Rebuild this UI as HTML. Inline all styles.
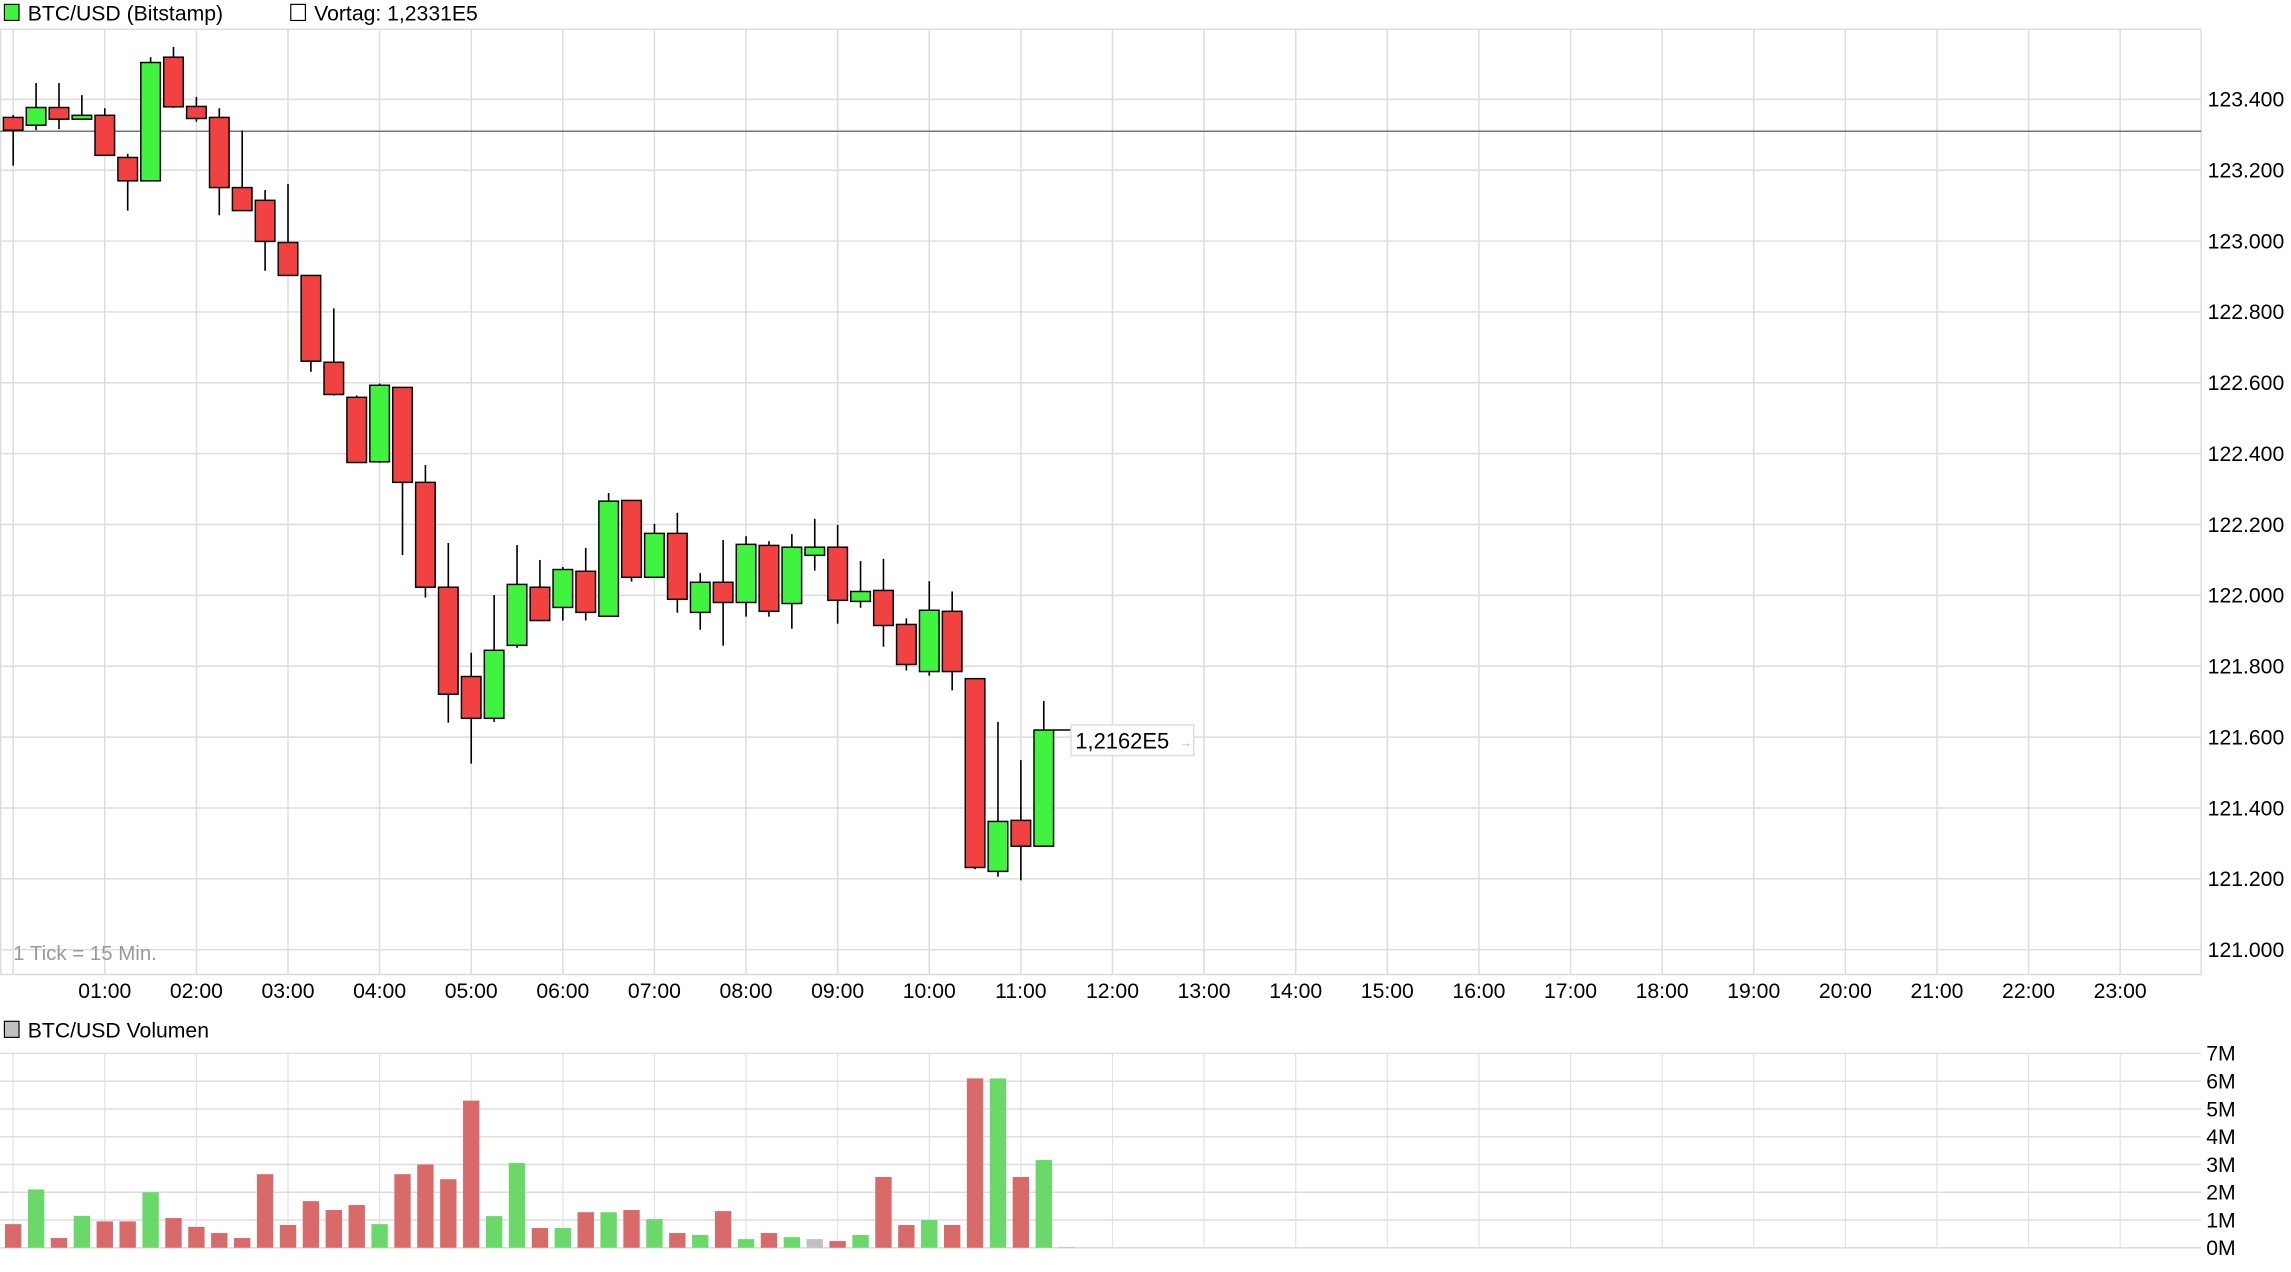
<!DOCTYPE html>
<html><head><meta charset="utf-8"><style>
html,body{margin:0;padding:0;background:#fff;overflow:hidden}
svg{display:block;font-family:"Liberation Sans",sans-serif}
</style></head><body>
<svg id="chart" width="2291" height="1272" viewBox="0 0 1568 870.6" xmlns="http://www.w3.org/2000/svg">
<g id="grid"></g>
<g id="volgrid"></g>
<g id="candles"></g>
<g id="vols"></g>
<g id="labels"></g>
<g>
<rect x="3" y="3" width="10" height="11" fill="#3ff33f" stroke="#000" stroke-width="0.8"/>
<text x="19" y="14" font-size="14.5">BTC/USD (Bitstamp)</text>
<rect x="199" y="3" width="10" height="11" fill="#fff" stroke="#000" stroke-width="0.8"/>
<text x="215" y="14" font-size="14.5">Vortag: 1,2331E5</text>
</g>
<g>
<rect x="3" y="699" width="10" height="11" fill="#c0c0c0" stroke="#000" stroke-width="0.8"/>
<text x="19" y="710" font-size="14.5">BTC/USD Volumen</text>
</g>
<text x="9" y="657" font-size="14" fill="#999">1 Tick = 15 Min.</text>
</svg>
<script>
const opens=[123349,123327,123377,123344,123355,123236,123170,123519,123380,123349,123151,123115,122996,122903,122658,122559,122377,122587,122319,122023,121771,121653,121859,122023,121966,122068,121941,122268,122051,122175,121952,122037,121980,122141,121977,122113,122136,121983,122014,121918,121785,121955,121765,121221,121365,121292];
const highs=[123356,123446,123446,123412,123375,123246,123519,123548,123407,123375,123312,123144,123161,122903,122810,122564,122598,122587,122368,122148,121838,122001,122142,122100,122080,122134,122289,122268,122202,122233,122063,122156,122167,122153,122173,122216,122199,122097,122103,121935,122040,122011,121765,121643,121535,121702];
const lows=[123213,123313,123316,123344,123242,123086,123170,123376,123337,123073,123086,122916,122903,122631,122564,122375,122374,122114,121994,121641,121525,121643,121852,121929,121929,121929,121941,122039,122051,121951,121903,121858,121940,121940,121906,122070,121920,121965,121855,121788,121773,121732,121227,121206,121196,121292];
const closes=[123313,123377,123344,123355,123242,123170,123504,123379,123346,123151,123086,122999,122903,122661,122567,122375,122593,122319,122023,121721,121653,121845,122031,121929,122073,121952,122266,122051,122175,121989,122037,121980,122144,121955,122136,122136,121986,122011,121915,121805,121958,121785,121232,121362,121292,121620];
const volumes=[0.85,2.1,0.35,1.15,0.95,0.95,2.0,1.07,0.75,0.53,0.35,2.65,0.82,1.68,1.36,1.54,0.85,2.65,3.0,2.47,5.3,1.14,3.05,0.71,0.71,1.28,1.28,1.36,1.03,0.53,0.46,1.32,0.31,0.53,0.38,0.31,0.24,0.46,2.55,0.82,1.0,0.82,6.1,6.1,2.55,3.16,0.03];
const volDir=["r","g","r","g","r","r","g","r","r","r","r","r","r","r","r","r","g","r","r","r","r","g","g","r","g","r","g","r","g","r","g","r","g","r","g","n","r","g","r","r","g","r","r","g","r","g","n"];
const priceTicks=[121000,121200,121400,121600,121800,122000,122200,122400,122600,122800,123000,123200,123400];
const priceTickLabels=["121.000","121.200","121.400","121.600","121.800","122.000","122.200","122.400","122.600","122.800","123.000","123.200","123.400"];
const volTicks=[0,1,2,3,4,5,6,7];
const volTickLabels=["0M","1M","2M","3M","4M","5M","6M","7M"];
const hourLabels=["01:00","02:00","03:00","04:00","05:00","06:00","07:00","08:00","09:00","10:00","11:00","12:00","13:00","14:00","15:00","16:00","17:00","18:00","19:00","20:00","21:00","22:00","23:00"];
const vortag=123310;
const lastPrice=121620;

const NS="http://www.w3.org/2000/svg";
const X0=9, SLOT=62.7/4, RIGHT=1506.5, PTOP=20, PBOT=667;
const xOf=i=>X0+i*SLOT;
const yP=v=>68+(123400-v)*(582/2400);
const VZ=854, yV=v=>VZ-v*19;
function mk(tag,attrs,parent){const e=document.createElementNS(NS,tag);for(const k in attrs)e.setAttribute(k,attrs[k]);parent.appendChild(e);return e;}
const grid=document.getElementById('grid'),vg=document.getElementById('volgrid'),cg=document.getElementById('candles'),vb=document.getElementById('vols'),lb=document.getElementById('labels');

let fr=mk('rect',{x:0.5,y:PTOP,width:RIGHT-0.5,height:PBOT-PTOP,fill:'none',stroke:'#ddd','stroke-width':1},grid);


priceTicks.forEach((v,i)=>{
  const l=mk('line',{x1:0,x2:RIGHT,y1:yP(v),y2:yP(v),stroke:'#ddd','stroke-width':1},grid);
  
  
  const t=mk('text',{x:1511,y:yP(v)+5,'font-size':14.5},lb);
  t.textContent=priceTickLabels[i];
  
  
});
for(let h=0;h<24;h++){
  const x=xOf(h*4);
  const l=mk('line',{x1:x,x2:x,y1:PTOP,y2:PBOT,stroke:'#ddd','stroke-width':1},grid);
  
  
  const l2=mk('line',{x1:x,x2:x,y1:721,y2:VZ,stroke:'#e2e2e2','stroke-width':0.8},vg);
  
  
  if(h>0){
    const t=mk('text',{x:x,y:683,'font-size':14.5,'text-anchor':'middle'},lb);
    t.textContent=hourLabels[h-1];
    
    
  }
}
volTicks.forEach((v,i)=>{
  const l=mk('line',{x1:0,x2:RIGHT,y1:yV(v),y2:yV(v),stroke:'#ddd','stroke-width':1},vg);
  
  
  const t=mk('text',{x:1510,y:yV(v)+5,'font-size':14.5},lb);
  t.textContent=volTickLabels[i];
  
  
});
const vl=mk('line',{x1:0,x2:RIGHT,y1:yP(vortag),y2:yP(vortag),stroke:'#777','stroke-width':1},cg);


const BW=13.4;
opens.forEach((o,i)=>{
  const c=closes[i],x=xOf(i),up=c>=o;
  const w=mk('line',{x1:x,x2:x,y1:yP(highs[i]),y2:yP(lows[i]),stroke:'#000','stroke-width':1.1},cg);
  
  
  const top=yP(Math.max(o,c)),bot=yP(Math.min(o,c));
  const r=mk('rect',{x:x-BW/2,y:top,width:BW,height:Math.max(1,bot-top),fill:up?'#3ff33f':'#f24141',stroke:'#000','stroke-width':1},cg);
  
  
});
volumes.forEach((v,i)=>{
  const x=xOf(i);
  const col=volDir[i]==='g'?'#6ad96a':volDir[i]==='r'?'#d96a6a':'#c0c0c0';
  const r=mk('rect',{x:x-5.6,y:yV(v),width:11.2,height:v*19,fill:col},vb);
  
  
});
const ly=yP(lastPrice);
const tl=mk('line',{x1:xOf(45)+7,x2:733,y1:ly,y2:ly,stroke:'#000','stroke-width':1},cg);


const bx=mk('rect',{x:733,y:ly-3.5,width:84,height:21,fill:'#fff',stroke:'#ddd','stroke-width':1},cg);


const lt=mk('text',{x:736,y:ly+12.5,'font-size':15},cg);
lt.textContent='1,2162E5';


const ar=mk('text',{x:807,y:ly+11.5,'font-size':9,fill:'#bbb'},cg);
ar.textContent='→';


</script>
</body></html>
